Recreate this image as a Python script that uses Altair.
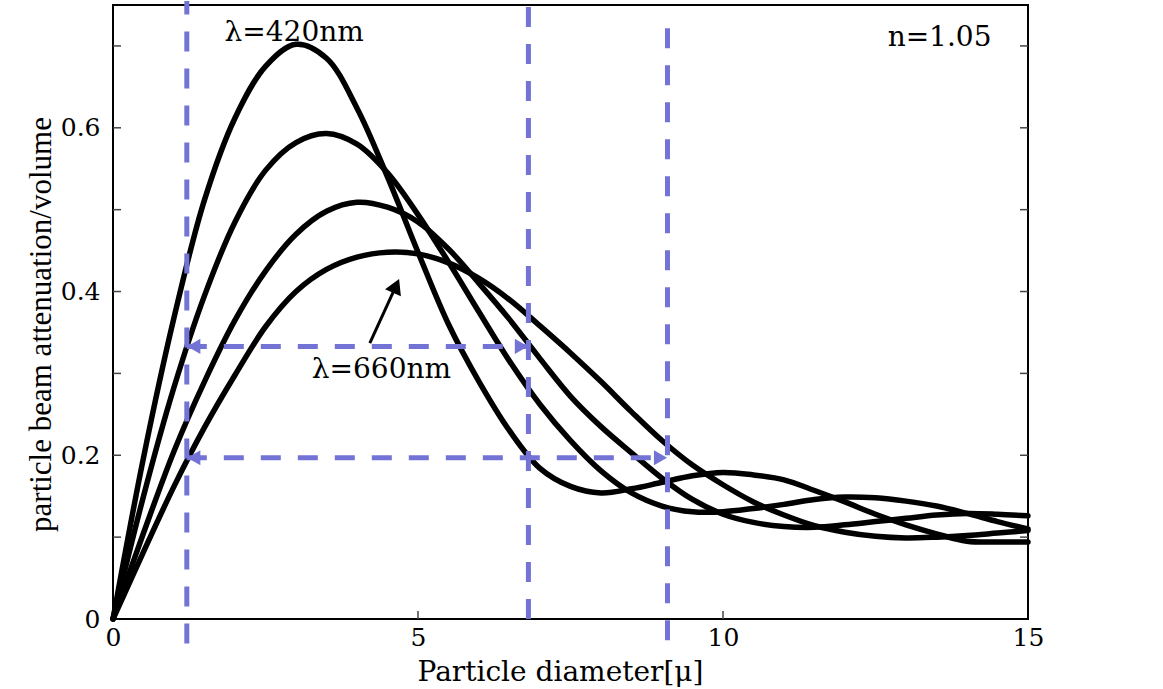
import altair as alt
import pandas as pd

# ---------------- data ----------------
diameter = [0.0, 0.5, 1.0, 1.5, 2.0, 2.5, 3.0, 3.5, 4.0, 4.5, 5.0, 5.5, 6.0, 6.5, 7.0, 7.5,
            8.0, 8.5, 9.0, 9.5, 10.0, 10.5, 11.0, 11.5, 12.0, 12.5, 13.0, 13.5, 14.0, 14.5, 15.0]

att_420 = [0.0, 0.197, 0.368, 0.512, 0.612, 0.675, 0.702, 0.685, 0.624, 0.540, 0.448, 0.360,
           0.290, 0.230, 0.184, 0.162, 0.154, 0.159, 0.167, 0.175, 0.179, 0.176, 0.170, 0.157,
           0.143, 0.128, 0.115, 0.104, 0.095, 0.094, 0.094]
att_500 = [0.0, 0.150, 0.283, 0.395, 0.485, 0.548, 0.582, 0.593, 0.580, 0.545, 0.494, 0.436,
           0.375, 0.315, 0.262, 0.218, 0.181, 0.154, 0.138, 0.131, 0.131, 0.135, 0.140, 0.146,
           0.149, 0.148, 0.144, 0.138, 0.129, 0.119, 0.110]
att_580 = [0.0, 0.105, 0.205, 0.290, 0.365, 0.425, 0.470, 0.498, 0.509, 0.503, 0.485, 0.452,
           0.410, 0.366, 0.318, 0.272, 0.235, 0.203, 0.172, 0.146, 0.128, 0.118, 0.113, 0.112,
           0.115, 0.119, 0.123, 0.127, 0.129, 0.128, 0.126]
att_660 = [0.0, 0.082, 0.162, 0.234, 0.298, 0.357, 0.400, 0.427, 0.442, 0.448, 0.446, 0.435,
           0.416, 0.390, 0.358, 0.325, 0.290, 0.253, 0.218, 0.188, 0.164, 0.143, 0.127, 0.114,
           0.106, 0.101, 0.099, 0.100, 0.102, 0.105, 0.108]
wavelengths = ["420 nm", "500 nm", "580 nm", "660 nm"]

x_ticks = [0, 5, 10, 15]
y_ticks = [0, 0.2, 0.4, 0.6]
minor_y = [0.1, 0.2, 0.3, 0.4, 0.5, 0.6, 0.7]
minor_x = [5, 10]
x_domain = [0, 15]
y_domain = [0, 0.75]

# guide lines (blue dashed)
guide_x = [1.21, 6.81, 9.09]
guide_bottom = [-0.03, 0.0, -0.026]
guide_top = [0.755, 0.75, 0.73]
arrow_level = [0.333, 0.197]
arrow_start = [1.21, 1.21]
arrow_end = [6.81, 9.09]

# annotations
ann_text = ["λ=420nm", "λ=660nm", "n=1.05"]
ann_x = [2.97, 4.40, 13.55]
ann_y = [0.706, 0.294, 0.700]
pointer_x = [4.21]
pointer_y = [0.337]
pointer_x2 = [4.64]
pointer_y2 = [0.407]

# ---------------- tables ----------------
rows = []
for wl, vals in zip(wavelengths, [att_420, att_500, att_580, att_660]):
    for d, v in zip(diameter, vals):
        rows.append({"d": d, "v": v, "wl": wl})
curves_df = pd.DataFrame(rows)

vdf = pd.DataFrame({"x": guide_x, "y": guide_bottom, "y2": guide_top})
hdf = pd.DataFrame({"x": arrow_start, "x2": arrow_end, "y": arrow_level})
ann_df = pd.DataFrame({"t": ann_text, "x": ann_x, "y": ann_y})
pdf = pd.DataFrame({"x": pointer_x, "y": pointer_y, "x2": pointer_x2, "y2": pointer_y2})
ydf = pd.DataFrame({"t": minor_y, "xl": [x_domain[0]] * len(minor_y), "xr": [x_domain[1]] * len(minor_y)})
xdf = pd.DataFrame({"t": minor_x, "yb": [y_domain[0]] * len(minor_x)})

BLUE = "#7373d6"
SERIF = "DejaVu Serif"

xs = alt.Scale(domain=x_domain, nice=False, zero=False)
ys = alt.Scale(domain=y_domain, nice=False, zero=False)

x_axis = alt.Axis(values=x_ticks, format="d", ticks=False, domain=False, grid=False,
                  labelFont=SERIF, labelFontSize=25, labelColor="black", labelPadding=6,
                  labelBound=False, labelFlush=False,
                  title="Particle diameter[μ]", titleFont=SERIF, titleFontSize=28,
                  titleFontWeight="normal", titleColor="black",
                  titleX=447, titleY=61, titleBaseline="alphabetic", titleAlign="center")
y_axis = alt.Axis(values=y_ticks, format="~g", ticks=False, domain=False, grid=False,
                  labelFont=SERIF, labelFontSize=25, labelColor="black", labelPadding=13,
                  title="particle beam attenuation/volume", titleFont="Liberation Serif",
                  titleFontSize=31, titleFontWeight="normal", titleColor="black",
                  titleAngle=270, titleX=-63, titleY=319, titleBaseline="alphabetic",
                  titleAlign="center")


def X(field):
    return alt.X(field, scale=xs, axis=x_axis)


def Y(field):
    return alt.Y(field, scale=ys, axis=y_axis)


curves = alt.Chart(curves_df).mark_line(
    color="black", strokeWidth=5.5, interpolate="catmull-rom", strokeJoin="round", strokeCap="round"
).encode(x=X("d:Q"), y=Y("v:Q"), detail="wl:N")

vrules = alt.Chart(vdf).mark_rule(color=BLUE, strokeWidth=5, strokeDash=[20, 17]).encode(
    x=X("x:Q"), y=Y("y:Q"), y2="y2:Q")
hrules = alt.Chart(hdf).mark_rule(color=BLUE, strokeWidth=5, strokeDash=[20, 17]).encode(
    x=X("x:Q"), x2="x2:Q", y=Y("y:Q"))
left_heads = alt.Chart(hdf).mark_point(
    shape="triangle-left", filled=True, color=BLUE, opacity=1, size=230, xOffset=7
).encode(x=X("x:Q"), y=Y("y:Q"))
right_heads = alt.Chart(hdf).mark_point(
    shape="triangle-right", filled=True, color=BLUE, opacity=1, size=230, xOffset=-7
).encode(x=X("x2:Q"), y=Y("y:Q"))

pointer = alt.Chart(pdf).mark_rule(color="black", strokeWidth=3).encode(
    x=X("x:Q"), y=Y("y:Q"), x2="x2:Q", y2="y2:Q")
pointer_head = alt.Chart(pdf).mark_point(
    shape="triangle-up", filled=True, color="black", opacity=1, size=300, angle=24
).encode(x=X("x2:Q"), y=Y("y2:Q"))

labels = alt.Chart(ann_df).mark_text(
    font=SERIF, fontSize=28, color="black", baseline="alphabetic", align="center"
).encode(x=X("x:Q"), y=Y("y:Q"), text="t:N")

left_ticks = alt.Chart(ydf).mark_tick(orient="horizontal", size=16, thickness=1.5,
                                      color="#444444", clip=True, opacity=1).encode(
    y=Y("t:Q"), x=X("xl:Q"))
right_ticks = alt.Chart(ydf).mark_tick(orient="horizontal", size=16, thickness=1.5,
                                       color="#444444", clip=True, opacity=1).encode(
    y=Y("t:Q"), x=X("xr:Q"))
bottom_ticks = alt.Chart(xdf).mark_tick(orient="vertical", size=16, thickness=1.5,
                                        color="#444444", clip=True, opacity=1).encode(
    x=X("t:Q"), y=Y("yb:Q"))

chart = alt.layer(
    curves, left_ticks, right_ticks, bottom_ticks, vrules, hrules, left_heads, right_heads,
    pointer, pointer_head, labels
).properties(
    width=915, height=614,
    autosize=alt.AutoSizeParams(type="none"),
    padding={"left": 113, "top": 5, "right": 135, "bottom": 70},
    background="white",
).configure_view(stroke="black", strokeWidth=2)

chart.save("out.html", embed_options={"renderer": "svg", "actions": False})
